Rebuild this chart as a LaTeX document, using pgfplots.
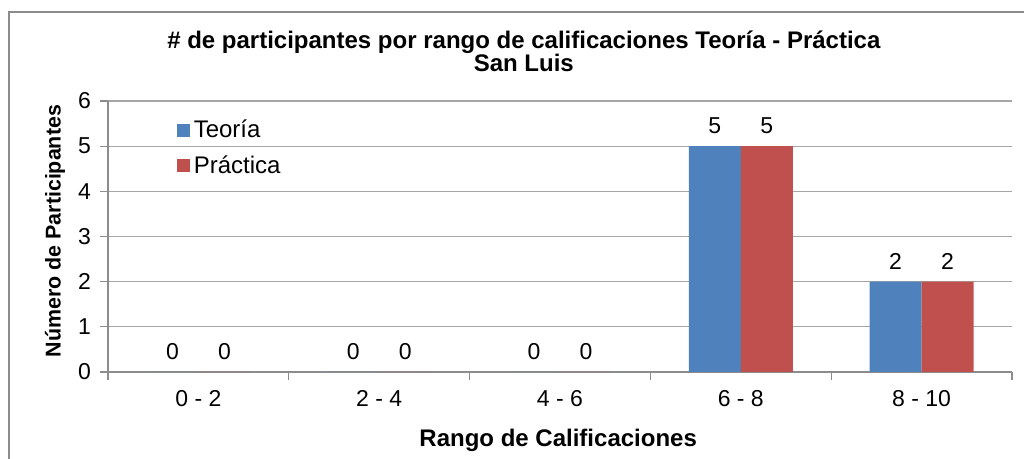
\documentclass[border=0pt]{standalone}
\usepackage{fontspec}
\setmainfont{Liberation Sans}
\usepackage{pgfplots}
\pgfplotsset{compat=1.18}
\definecolor{teo}{HTML}{4F81BD}
\definecolor{pra}{HTML}{C0504D}
\definecolor{gridc}{HTML}{A6A6A6}
\definecolor{axc}{HTML}{8C8C8C}

\begin{document}
\begin{tikzpicture}
  % page = 1024x459 px at 0.5pt/px, axis box lower-left at (0,0)
  \path[use as bounding box] (-54pt,-43.5pt) rectangle (458pt,186pt);
  \draw[axc,line width=1.2pt] (-49.5pt,-60pt) -- (-49.5pt,180pt) -- (480pt,180pt);
  \begin{axis}[
    scale only axis,width=452pt,height=135.5pt,
    clip=false,
    ybar=0pt,bar width=26pt,
    xmin=-0.5,xmax=4.5,ymin=0,ymax=6,
    xtick={-0.5,0.5,...,4.5},
    x tick label as interval,
    xticklabels={0 - 2,2 - 4,4 - 6,6 - 8,8 - 10},
    ytick={0,...,6},
    ymajorgrids,grid style={gridc,line width=0.6pt},
    axis x line*=bottom,axis y line*=left,
    axis line style={axc,line width=0.6pt,-},
    tick style={axc,line width=0.6pt},
    tick align=outside,major tick length=4pt,
    tick label style={font=\fontsize{11.5}{13}\selectfont},
    yticklabel style={xshift=-1pt},
    xticklabel style={yshift=-1.5pt},
    /pgf/number format/assume math mode=true,
    nodes near coords,
    every node near coord/.append style={font=\fontsize{11.5}{13}\selectfont,yshift=2.5pt},
    xlabel={Rango de Calificaciones},
    ylabel={Número de Participantes},
    every axis x label/.style={at={(axis description cs:0.498,-0.251)},anchor=center,
      font=\bfseries\fontsize{12}{14}\selectfont},
    every axis y label/.style={at={(axis description cs:-0.0586,0.52)},anchor=center,rotate=90,
      font=\bfseries\fontsize{10.7}{13}\selectfont},
    legend style={at={(axis description cs:0.069,0.962)},anchor=north west,draw=none,fill=none,
      font=\fontsize{12}{14}\selectfont,row sep=3.5pt},
    legend cell align=left,
    legend image code/.code={\fill[#1] (0pt,-3.25pt) rectangle (6.5pt,3.25pt);},
  ]
    \addplot[fill=teo,draw=none] coordinates {(0,0) (1,0) (2,0) (3,5) (4,2)};
    \addplot[fill=pra,draw=none] coordinates {(0,0) (1,0) (2,0) (3,5) (4,2)};
    \legend{Teoría,Práctica}
    \node[align=center,font=\bfseries\fontsize{12}{11.5}\selectfont] at (axis description cs:0.46,1.183)
      {\# de participantes por rango de calificaciones Teoría - Práctica\\San Luis};
  \end{axis}
\end{tikzpicture}
\end{document}
